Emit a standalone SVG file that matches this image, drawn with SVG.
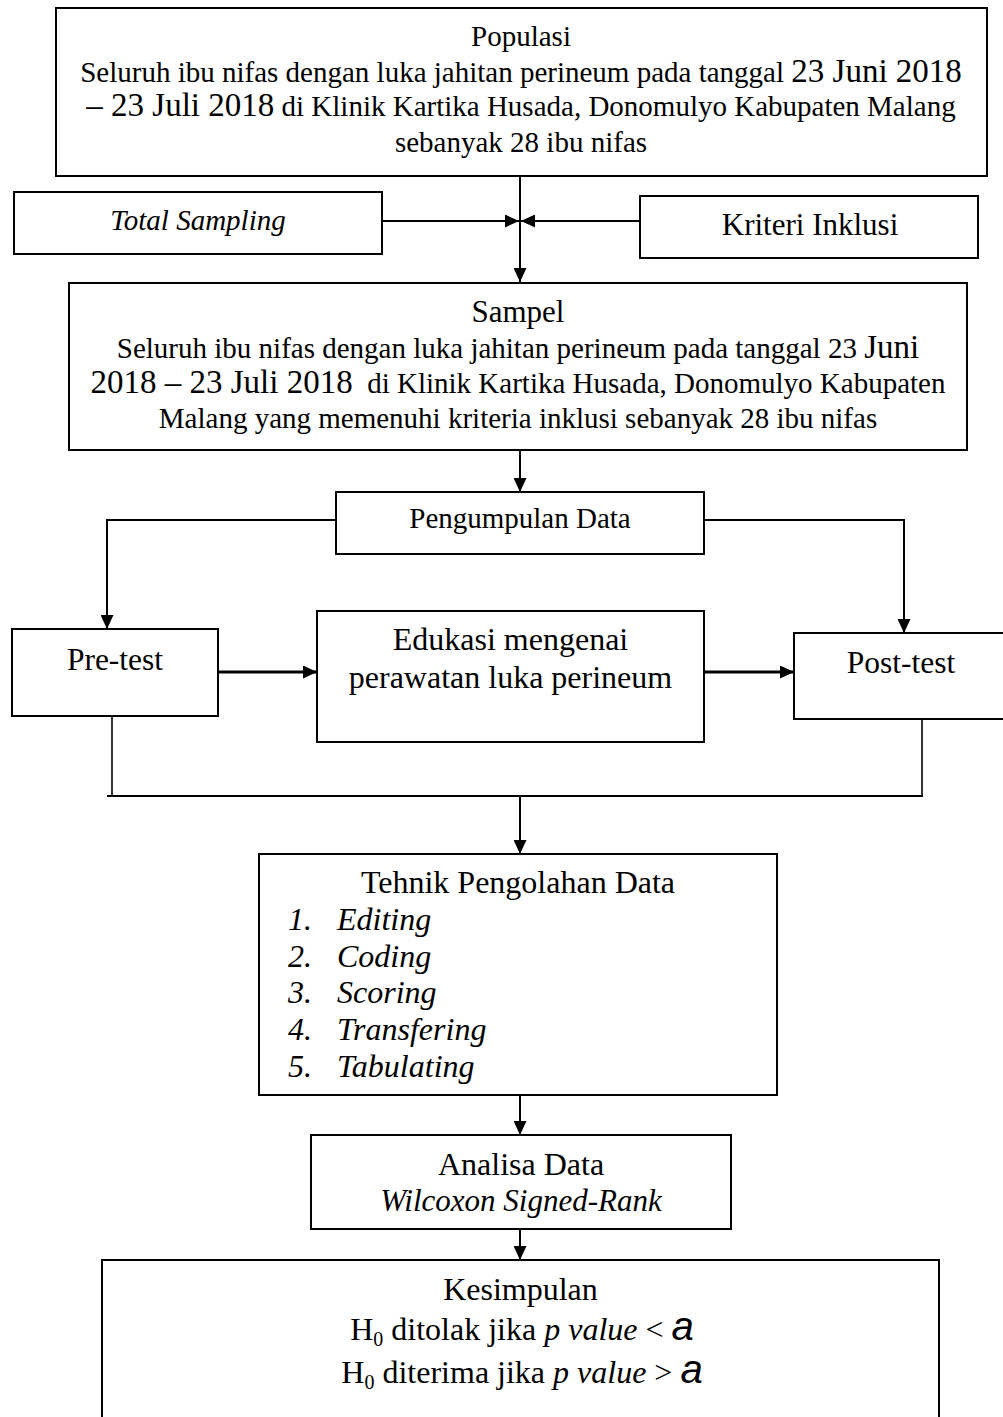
<svg xmlns="http://www.w3.org/2000/svg" width="1003" height="1417" viewBox="0 0 1003 1417">
<defs>
<style>
.box{fill:#fff;stroke:#000;stroke-width:2}
.t{font-family:"Liberation Serif","Times New Roman",serif;fill:#000}
.c{text-anchor:middle}
.i{font-style:italic}
.ln{fill:none;stroke:#000;stroke-width:2}
.thk{stroke-width:3}
.thin{stroke-width:1.6}
</style>
<marker id="ah" markerUnits="userSpaceOnUse" markerWidth="14" markerHeight="13" refX="14" refY="6.5" orient="auto"><path d="M0,0 L14,6.5 L0,13 z" fill="#000"/></marker>
</defs>
<rect width="1003" height="1417" fill="#fff"/>

<g id="connectors">
<line class="ln" x1="520" y1="176" x2="520" y2="282" marker-end="url(#ah)"/>
<line class="ln" x1="382" y1="221" x2="519" y2="221" marker-end="url(#ah)"/>
<line class="ln" x1="640" y1="221" x2="521" y2="221" marker-end="url(#ah)"/>
<line class="ln" x1="520" y1="450" x2="520" y2="492" marker-end="url(#ah)"/>
<polyline class="ln" points="336,520 107,520 107,629" marker-end="url(#ah)"/>
<polyline class="ln" points="704,520 904,520 904,633" marker-end="url(#ah)"/>
<line class="ln thk" x1="218" y1="672" x2="317" y2="672" marker-end="url(#ah)"/>
<line class="ln thk" x1="704" y1="672" x2="794" y2="672" marker-end="url(#ah)"/>
<line class="ln thin" x1="112" y1="716" x2="112" y2="796"/>
<line class="ln thin" x1="922" y1="719" x2="922" y2="796"/>
<line class="ln" x1="107" y1="796" x2="923" y2="796"/>
<line class="ln" x1="520" y1="796" x2="520" y2="854" marker-end="url(#ah)"/>
<line class="ln" x1="520" y1="1095" x2="520" y2="1135" marker-end="url(#ah)"/>
<line class="ln" x1="520" y1="1229" x2="520" y2="1260" marker-end="url(#ah)"/>
</g>

<g id="populasi">
<rect class="box" x="56" y="8" width="931" height="168"/>
<text class="t c" x="521" y="46" font-size="29">Populasi</text>
<text class="t c" x="521" y="82" font-size="29">Seluruh ibu nifas dengan luka jahitan perineum pada tanggal <tspan font-size="33">23 Juni 2018</tspan></text>
<text class="t c" x="521" y="116" font-size="29"><tspan font-size="33">– 23 Juli 2018</tspan> di Klinik Kartika Husada, Donomulyo Kabupaten Malang</text>
<text class="t c" x="521" y="152" font-size="29">sebanyak 28 ibu nifas</text>
</g>

<g id="total-sampling">
<rect class="box" x="14" y="192" width="368" height="62"/>
<text class="t c i" x="198" y="230" font-size="29">Total Sampling</text>
</g>

<g id="kriteri-inklusi">
<rect class="box" x="640" y="196" width="338" height="62"/>
<text class="t c" x="810" y="235" font-size="31">Kriteri Inklusi</text>
</g>

<g id="sampel">
<rect class="box" x="69" y="283" width="898" height="167"/>
<text class="t c" x="518" y="322" font-size="31">Sampel</text>
<text class="t c" x="518" y="358" font-size="29">Seluruh ibu nifas dengan luka jahitan perineum pada tanggal 23 <tspan font-size="33">Juni</tspan></text>
<text class="t c" x="518" y="393" font-size="29" xml:space="preserve"><tspan font-size="33">2018 – 23 Juli 2018</tspan>  di Klinik Kartika Husada, Donomulyo Kabupaten</text>
<text class="t c" x="518" y="428" font-size="29">Malang yang memenuhi kriteria inklusi sebanyak 28 ibu nifas</text>
</g>

<g id="pengumpulan-data">
<rect class="box" x="336" y="492" width="368" height="62"/>
<text class="t c" x="520" y="528" font-size="29">Pengumpulan Data</text>
</g>

<g id="pre-test">
<rect class="box" x="12" y="629" width="206" height="87"/>
<text class="t c" x="115" y="670" font-size="31.5">Pre-test</text>
</g>

<g id="edukasi">
<rect class="box" x="317" y="611" width="387" height="131"/>
<text class="t c" x="510.5" y="650" font-size="32">Edukasi mengenai</text>
<text class="t c" x="510.5" y="688" font-size="32">perawatan luka perineum</text>
</g>

<g id="post-test">
<rect class="box" x="794" y="633" width="216" height="86"/>
<text class="t c" x="901" y="673" font-size="31.5">Post-test</text>
</g>

<g id="tehnik">
<rect class="box" x="259" y="854" width="518" height="241"/>
<text class="t c" x="518" y="893" font-size="32">Tehnik Pengolahan Data</text>
<g class="t i" font-size="32">
<text x="288" y="930">1.</text><text x="337" y="930">Editing</text>
<text x="288" y="967">2.</text><text x="337" y="967">Coding</text>
<text x="288" y="1003">3.</text><text x="337" y="1003">Scoring</text>
<text x="288" y="1040">4.</text><text x="337" y="1040">Transfering</text>
<text x="288" y="1077">5.</text><text x="337" y="1077">Tabulating</text>
</g>
</g>

<g id="analisa">
<rect class="box" x="311" y="1135" width="420" height="94"/>
<text class="t c" x="521" y="1175" font-size="32">Analisa Data</text>
<text class="t c i" x="521" y="1211" font-size="31">Wilcoxon Signed-Rank</text>
</g>

<g id="kesimpulan">
<rect class="box" x="102" y="1260" width="837" height="170"/>
<text class="t c" x="520.5" y="1300" font-size="32">Kesimpulan</text>
<text class="t c" x="522" y="1340" font-size="32">H<tspan font-size="20" dy="6">0</tspan><tspan dy="-6"> ditolak jika </tspan><tspan font-style="italic">p value</tspan> &lt; <tspan font-family="Liberation Sans, Arial, sans-serif" font-style="italic" font-size="40">a</tspan></text>
<text class="t c" x="522" y="1383" font-size="32">H<tspan font-size="20" dy="6">0</tspan><tspan dy="-6"> diterima jika </tspan><tspan font-style="italic">p value</tspan> &gt; <tspan font-family="Liberation Sans, Arial, sans-serif" font-style="italic" font-size="40">a</tspan></text>
</g>
</svg>
